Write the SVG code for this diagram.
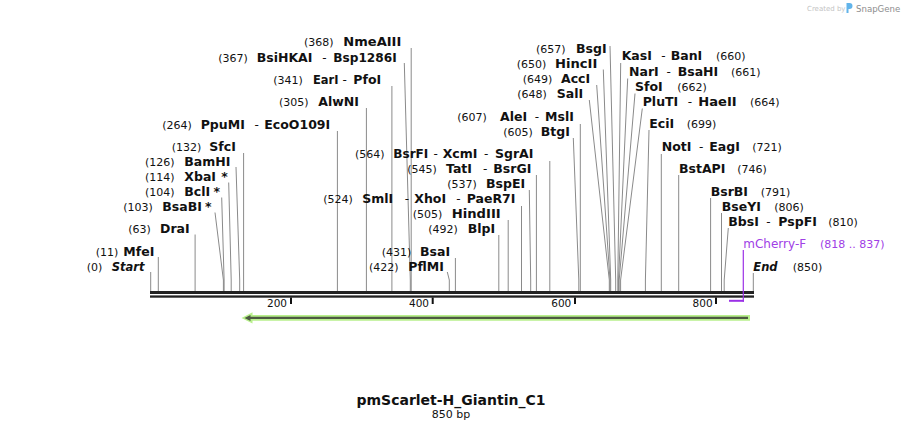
<svg xmlns="http://www.w3.org/2000/svg" width="904" height="430" viewBox="0 0 904 430">
<style>
text{font-family:"DejaVu Sans",Verdana,sans-serif;fill:#111}
.n{font-size:11px}
.e{font-size:12.5px;font-weight:bold}
.s{font-size:12px}
.se{font-size:11.5px;font-weight:bold;font-style:italic}
.p{fill:#a040e6}
.cut{fill:none;stroke:#8a8a8a;stroke-width:1}
.tick{font-size:10.5px}
</style>
<rect width="904" height="430" fill="#fff"/>
<g id="credit">
<text x="807" y="11" style="font-size:7px;fill:#c4c4c4">Created by</text>
<path d="M846.5,13 V3 h3 a3,3 0 0 1 0,6 h-1 v4 z" fill="#62b4ea"/>
<text x="856" y="11.5" style="font-size:8.6px;fill:#8e8e8e">SnapGene</text>
</g>
<g id="connectors">
<polyline class="cut" points="150.7,272 150.7,291"/>
<polyline class="cut" points="158.3,257 158.3,291"/>
<polyline class="cut" points="195.1,234.5 195.1,291"/>
<polyline class="cut" points="215,212.5 223.4,280 223.4,291"/>
<polyline class="cut" points="221.7,197.5 224.1,280 224.1,291"/>
<polyline class="cut" points="228.7,182.5 231.2,280 231.2,291"/>
<polyline class="cut" points="236,167 239.7,280 239.7,291"/>
<polyline class="cut" points="243.6,153 243.6,291"/>
<polyline class="cut" points="337.4,131 337.4,291"/>
<polyline class="cut" points="366.4,108 366.4,291"/>
<polyline class="cut" points="391.9,86 391.9,291"/>
<polyline class="cut" points="404.3,63 410.3,280 410.3,291"/>
<polyline class="cut" points="411.2,48 411.2,291"/>
<polyline class="cut" points="549.8,161 549.8,291"/>
<polyline class="cut" points="536.4,175 536.4,291"/>
<polyline class="cut" points="529.3,190 530.7,280 530.7,291"/>
<polyline class="cut" points="521.5,206 521.5,291"/>
<polyline class="cut" points="508.2,220 508.2,291"/>
<polyline class="cut" points="498.8,235 498.8,291"/>
<polyline class="cut" points="455.4,258 455.4,291"/>
<polyline class="cut" points="447.3,272 449.3,280 449.3,291"/>
<polyline class="cut" points="610,46 615.7,280 615.7,291"/>
<polyline class="cut" points="603.3,69.5 610.7,280 610.7,291"/>
<polyline class="cut" points="596.7,85 610,280 610,291"/>
<polyline class="cut" points="589.3,100 609.3,280 609.3,291"/>
<polyline class="cut" points="580.3,124 580.3,291"/>
<polyline class="cut" points="573.3,138 578.8,280 578.8,291"/>
<polyline class="cut" points="620.7,63 617.8,280 617.8,291"/>
<polyline class="cut" points="627.7,78.5 618.5,280 618.5,291"/>
<polyline class="cut" points="635,93.5 619.2,280 619.2,291"/>
<polyline class="cut" points="642.3,108.5 620.6,280 620.6,291"/>
<polyline class="cut" points="649,130 645.4,280 645.4,291"/>
<polyline class="cut" points="661.3,154 661.3,291"/>
<polyline class="cut" points="678.7,175 678.7,291"/>
<polyline class="cut" points="710.6,198 710.6,291"/>
<polyline class="cut" points="721.5,213 721.5,291"/>
<polyline class="cut" points="728.3,228 724.2,280 724.2,291"/>
<polyline class="cut" points="753.3,273 753.3,291"/>
</g>
<g id="backbone">
<rect x="150" y="291" width="604" height="3" fill="#222"/>
<rect x="150" y="295.4" width="604" height="2.3" fill="#222"/>
<g fill="#111">
<rect x="290" y="297.5" width="2" height="6.5"/>
<rect x="431.7" y="297.5" width="2" height="6.5"/>
<rect x="574" y="297.5" width="2" height="6.5"/>
<rect x="715" y="297.5" width="2" height="6.5"/>
</g>
<text class="tick" x="287" y="307.3" text-anchor="end">200</text>
<text class="tick" x="429" y="307.3" text-anchor="end">400</text>
<text class="tick" x="571.3" y="307.3" text-anchor="end">600</text>
<text class="tick" x="712.6" y="307.3" text-anchor="end">800</text>
</g>
<g id="feature-arrow">
<polygon points="241.5,318 252.5,312.2 252.5,315 750,315 750,320.8 252.5,320.8 252.5,323.6" fill="#b8f08c"/>
<line x1="248" y1="317.9" x2="748" y2="317.9" stroke="#4d5a42" stroke-width="2.4"/>
<polygon points="244.5,317.9 250.5,314.9 250.5,320.9" fill="#4d5a42"/>
</g>
<g id="mCherry-F">
<line x1="729" y1="300.8" x2="744" y2="300.8" stroke="#9b30e6" stroke-width="2"/>
<line x1="743.3" y1="250" x2="743.3" y2="301.8" stroke="#9b30e6" stroke-width="1.2"/>
<text class="s p" x="743.3" y="248.3">mCherry-F</text>
<text class="n p" x="820" y="248.3">(818 .. 837)</text>
</g>
<g id="Start"><text class="n" x="86.7" y="270.5">(0)</text><text class="se" x="111.7" y="270.5">Start</text></g>
<g id="MfeI"><text class="n" x="95.7" y="255.5">(11)</text><text class="e" x="123.3" y="255.5">MfeI</text></g>
<g id="DraI"><text class="n" x="128.3" y="232.5">(63)</text><text class="e" x="160" y="232.5">DraI</text></g>
<g id="BsaBI"><text class="n" x="123.3" y="211">(103)</text><text class="e" x="162.3" y="211">BsaBI</text><text class="e" x="205" y="211">*</text></g>
<g id="BclI"><text class="n" x="145" y="196">(104)</text><text class="e" x="184.3" y="196">BclI</text><text class="e" x="213.5" y="196">*</text></g>
<g id="XbaI"><text class="n" x="145" y="181">(114)</text><text class="e" x="184.3" y="181">XbaI</text><text class="e" x="221.3" y="181">*</text></g>
<g id="BamHI"><text class="n" x="145" y="166">(126)</text><text class="e" x="184.3" y="166">BamHI</text></g>
<g id="SfcI"><text class="n" x="171.7" y="151">(132)</text><text class="e" x="209.3" y="151">SfcI</text></g>
<g id="PpuMI"><text class="n" x="162.3" y="128.5">(264)</text><text class="e" x="200.7" y="128.5">PpuMI</text><text class="s" x="254.5" y="128.5">-</text><text class="e" x="264.3" y="128.5">EcoO109I</text></g>
<g id="AlwNI"><text class="n" x="279" y="106">(305)</text><text class="e" x="318.3" y="106">AlwNI</text></g>
<g id="EarI"><text class="n" x="273.3" y="83.5">(341)</text><text class="e" x="313" y="83.5" textLength="25.5" lengthAdjust="spacingAndGlyphs">EarI</text><text class="s" x="342.5" y="83.5">-</text><text class="e" x="353.3" y="83.5">PfoI</text></g>
<g id="BsiHKAI"><text class="n" x="218.3" y="61.5">(367)</text><text class="e" x="256.7" y="61.5">BsiHKAI</text><text class="s" x="322.2" y="61.5">-</text><text class="e" x="333.3" y="61.5" textLength="63.4" lengthAdjust="spacingAndGlyphs">Bsp1286I</text></g>
<g id="NmeAIII"><text class="n" x="304" y="46">(368)</text><text class="e" x="343.3" y="46" textLength="58" lengthAdjust="spacingAndGlyphs">NmeAIII</text></g>
<g id="BsrFI"><text class="n" x="355" y="157.5">(564)</text><text class="e" x="393.3" y="157.5" textLength="35" lengthAdjust="spacingAndGlyphs">BsrFI</text><text class="s" x="433.5" y="157.5">-</text><text class="e" x="442.7" y="157.5">XcmI</text><text class="s" x="484" y="157.5">-</text><text class="e" x="495" y="157.5">SgrAI</text></g>
<g id="TatI"><text class="n" x="407.3" y="172.7">(545)</text><text class="e" x="446" y="172.7">TatI</text><text class="s" x="483" y="172.7">-</text><text class="e" x="493.3" y="172.7">BsrGI</text></g>
<g id="BspEI"><text class="n" x="447.3" y="187.7">(537)</text><text class="e" x="486" y="187.7">BspEI</text></g>
<g id="SmlI"><text class="n" x="323.3" y="203">(524)</text><text class="e" x="362.3" y="203">SmlI</text><text class="s" x="404.7" y="203">-</text><text class="e" x="414.3" y="203">XhoI</text><text class="s" x="456.3" y="203">-</text><text class="e" x="466.7" y="203">PaeR7I</text></g>
<g id="HindIII"><text class="n" x="412.7" y="217.7">(505)</text><text class="e" x="451.7" y="217.7" textLength="49" lengthAdjust="spacingAndGlyphs">HindIII</text></g>
<g id="BlpI"><text class="n" x="428.3" y="233">(492)</text><text class="e" x="467.7" y="233">BlpI</text></g>
<g id="BsaI"><text class="n" x="381.7" y="256">(431)</text><text class="e" x="420" y="256">BsaI</text></g>
<g id="PflMI"><text class="n" x="369" y="270.5">(422)</text><text class="e" x="408.3" y="270.5">PflMI</text></g>
<g id="BsgI"><text class="n" x="536" y="52.7">(657)</text><text class="e" x="576" y="52.7">BsgI</text></g>
<g id="HincII"><text class="n" x="516.7" y="67.7">(650)</text><text class="e" x="555" y="67.7" textLength="42.3" lengthAdjust="spacingAndGlyphs">HincII</text></g>
<g id="AccI"><text class="n" x="522.7" y="82.7">(649)</text><text class="e" x="561" y="82.7">AccI</text></g>
<g id="SalI"><text class="n" x="517.3" y="97.7">(648)</text><text class="e" x="556.7" y="97.7">SalI</text></g>
<g id="AleI"><text class="n" x="457.3" y="120.7">(607)</text><text class="e" x="500" y="120.7">AleI</text><text class="s" x="534.7" y="120.7">-</text><text class="e" x="545" y="120.7">MslI</text></g>
<g id="BtgI"><text class="n" x="503.3" y="136">(605)</text><text class="e" x="540.7" y="136">BtgI</text></g>
<g id="KasI"><text class="e" x="621.7" y="60">KasI</text><text class="s" x="661.3" y="60">-</text><text class="e" x="670.7" y="60">BanI</text><text class="n" x="716" y="60">(660)</text></g>
<g id="NarI"><text class="e" x="629" y="75.7">NarI</text><text class="s" x="666.5" y="75.7">-</text><text class="e" x="677.7" y="75.7">BsaHI</text><text class="n" x="731" y="75.7">(661)</text></g>
<g id="SfoI"><text class="e" x="635" y="91">SfoI</text><text class="n" x="677.3" y="91">(662)</text></g>
<g id="PluTI"><text class="e" x="642.7" y="106">PluTI</text><text class="s" x="687.8" y="106">-</text><text class="e" x="698.3" y="106" textLength="38.4" lengthAdjust="spacingAndGlyphs">HaeII</text><text class="n" x="750" y="106">(664)</text></g>
<g id="EciI"><text class="e" x="649.3" y="128.3">EciI</text><text class="n" x="686.7" y="128.3">(699)</text></g>
<g id="NotI"><text class="e" x="661.7" y="150.7">NotI</text><text class="s" x="699" y="150.7">-</text><text class="e" x="709.3" y="150.7">EagI</text><text class="n" x="752.3" y="150.7">(721)</text></g>
<g id="BstAPI"><text class="e" x="679" y="172.7">BstAPI</text><text class="n" x="737.3" y="172.7">(746)</text></g>
<g id="BsrBI"><text class="e" x="710.7" y="195.7">BsrBI</text><text class="n" x="760.7" y="195.7">(791)</text></g>
<g id="BseYI"><text class="e" x="721.7" y="210.7">BseYI</text><text class="n" x="774.3" y="210.7">(806)</text></g>
<g id="BbsI"><text class="e" x="728.3" y="225.7">BbsI</text><text class="s" x="766.3" y="225.7">-</text><text class="e" x="778.3" y="225.7">PspFI</text><text class="n" x="828.3" y="225.7">(810)</text></g>
<g id="End"><text class="se" x="753.3" y="270.7">End</text><text class="n" x="792.7" y="270.7">(850)</text></g>
<g id="title">
<text x="451" y="404.7" text-anchor="middle" style="font-size:14px;font-weight:bold">pmScarlet-H_Giantin_C1</text>
<text x="451" y="418" text-anchor="middle" style="font-size:11px">850 bp</text>
</g>
</svg>
